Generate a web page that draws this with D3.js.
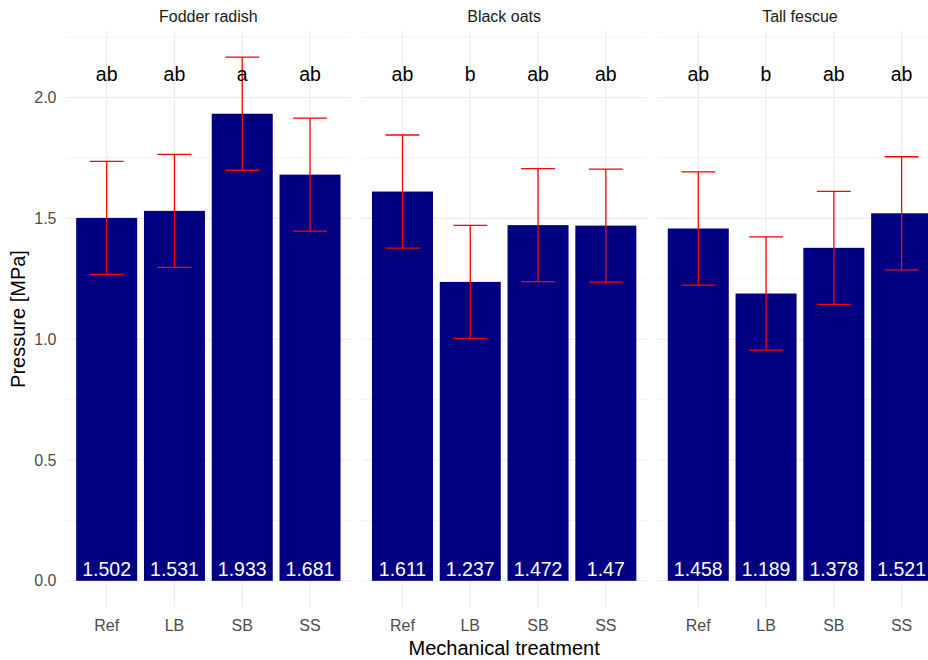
<!DOCTYPE html>
<html>
<head>
<meta charset="utf-8">
<script src="https://cdn.jsdelivr.net/npm/d3@7/dist/d3.min.js"></script>
<style>
  html, body { margin: 0; padding: 0; background: #fff; }
  svg { display: block; font-family: "Liberation Sans", Arial, sans-serif; }
</style>
</head>
<body>
<svg id="chart" width="928" height="660"></svg>
<script>
// Cover crops and mechanical treatments
const crops = ["Fodder radish", "Black oats", "Tall fescue"];
const treatments = ["Ref", "LB", "SB", "SS"];

// Mean penetration resistance (MPa), one array per crop, in treatment order
const fodderRadish = [1.502, 1.531, 1.933, 1.681];
const blackOats    = [1.611, 1.237, 1.472, 1.47];
const tallFescue   = [1.458, 1.189, 1.378, 1.521];

// Confidence limits
const fodderLower = [1.268, 1.297, 1.699, 1.447];
const fodderUpper = [1.736, 1.765, 2.167, 1.915];
const oatsLower   = [1.377, 1.003, 1.238, 1.236];
const oatsUpper   = [1.845, 1.471, 1.706, 1.704];
const fescueLower = [1.224, 0.955, 1.144, 1.287];
const fescueUpper = [1.692, 1.423, 1.612, 1.755];

// Compact letter display
const fodderLetters = ["ab", "ab", "a", "ab"];
const oatsLetters   = ["ab", "b", "ab", "ab"];
const fescueLetters = ["ab", "b", "ab", "ab"];

const letterY = 2.1;
const yTicks = [0, 0.5, 1.0, 1.5, 2.0];
const yMinor = [0.25, 0.75, 1.25, 1.75, 2.25];

const means  = [fodderRadish, blackOats, tallFescue];
const lowers = [fodderLower, oatsLower, fescueLower];
const uppers = [fodderUpper, oatsUpper, fescueUpper];
const letters = [fodderLetters, oatsLetters, fescueLetters];

const rows = [];
crops.forEach((crop, ci) => {
  treatments.forEach((t, ti) => {
    rows.push({
      crop, treatment: t,
      mean: means[ci][ti], lower: lowers[ci][ti], upper: uppers[ci][ti],
      letter: letters[ci][ti]
    });
  });
});

const svg = d3.select("#chart");

// Facet geometry
const panelLeft = 66, panelTop = 31, panelBottom = 607;
const panelW = 284.7, panelGap = 11.1;

const fx = d3.scaleBand().domain(crops)
  .range([panelLeft, panelLeft + crops.length * panelW + (crops.length - 1) * panelGap])
  .paddingInner(panelGap / (panelW + panelGap)).paddingOuter(0);

const yMax = d3.max(rows, d => Math.max(d.upper, letterY));
const ySpan = yMax - 0;
const y = d3.scaleLinear()
  .domain([0 - 0.05 * ySpan, yMax + 0.05 * ySpan])
  .range([panelBottom, panelTop]);

const x = d3.scaleBand().domain(treatments)
  .range([0, panelW]).paddingInner(0.1).paddingOuter(0.15);
const step = x.step();

const gridColor = "#ebebeb";

crops.forEach(crop => {
  const g = svg.append("g").attr("transform", `translate(${fx(crop)},0)`);
  const data = rows.filter(d => d.crop === crop);

  // minor horizontal grid
  g.selectAll(".minor").data(yMinor).join("line")
    .attr("x1", 0).attr("x2", panelW)
    .attr("y1", d => y(d)).attr("y2", d => y(d))
    .attr("stroke", gridColor).attr("stroke-width", 0.6);
  // major horizontal grid
  g.selectAll(".major").data(yTicks).join("line")
    .attr("x1", 0).attr("x2", panelW)
    .attr("y1", d => y(d)).attr("y2", d => y(d))
    .attr("stroke", gridColor).attr("stroke-width", 1.1);
  // vertical grid at categories
  g.selectAll(".vgrid").data(treatments).join("line")
    .attr("x1", d => x(d) + x.bandwidth() / 2).attr("x2", d => x(d) + x.bandwidth() / 2)
    .attr("y1", panelTop).attr("y2", panelBottom)
    .attr("stroke", gridColor).attr("stroke-width", 1.1);

  // bars
  g.selectAll(".bar").data(data).join("rect")
    .attr("x", d => x(d.treatment))
    .attr("width", x.bandwidth())
    .attr("y", d => y(d.mean))
    .attr("height", d => y(0) - y(d.mean))
    .attr("fill", "#000080");

  // error bars
  const eb = g.selectAll(".eb").data(data).join("g")
    .attr("transform", d => `translate(${x(d.treatment) + x.bandwidth() / 2},0)`);
  const capHalf = step * 0.25;
  eb.append("line").attr("x1", 0).attr("x2", 0)
    .attr("y1", d => y(d.lower)).attr("y2", d => y(d.upper));
  eb.append("line").attr("x1", -capHalf).attr("x2", capHalf)
    .attr("y1", d => y(d.upper)).attr("y2", d => y(d.upper));
  eb.append("line").attr("x1", -capHalf).attr("x2", capHalf)
    .attr("y1", d => y(d.lower)).attr("y2", d => y(d.lower));
  eb.selectAll("line").attr("stroke", "#ff0000").attr("stroke-width", 1.3);

  // value labels at the bar base
  g.selectAll(".val").data(data).join("text")
    .attr("x", d => x(d.treatment) + x.bandwidth() / 2)
    .attr("y", y(0) - 4.5)
    .attr("text-anchor", "middle")
    .attr("fill", "#ffffff")
    .attr("font-size", 19.5)
    .text(d => String(d.mean));

  // significance letters
  g.selectAll(".let").data(data).join("text")
    .attr("x", d => x(d.treatment) + x.bandwidth() / 2)
    .attr("y", y(letterY) + 7.5)
    .attr("text-anchor", "middle")
    .attr("fill", "#000000")
    .attr("font-size", 19.5)
    .text(d => d.letter);

  // x tick labels
  g.selectAll(".xt").data(treatments).join("text")
    .attr("x", d => x(d) + x.bandwidth() / 2)
    .attr("y", 631)
    .attr("text-anchor", "middle")
    .attr("fill", "#4d4d4d")
    .attr("font-size", 16)
    .text(d => d);

  // strip label
  g.append("text")
    .attr("x", panelW / 2).attr("y", 21.5)
    .attr("text-anchor", "middle")
    .attr("fill", "#1a1a1a")
    .attr("font-size", 16)
    .text(crop);
});

// y tick labels
svg.selectAll(".yt").data(yTicks).join("text")
  .attr("x", 56.5)
  .attr("y", d => y(d) + 5.6)
  .attr("text-anchor", "end")
  .attr("fill", "#4d4d4d")
  .attr("font-size", 16)
  .text(d => d3.format(".1f")(d));

// axis titles
const fullLeft = fx.range()[0], fullRight = fx.range()[1];
svg.append("text")
  .attr("x", (fullLeft + fullRight) / 2).attr("y", 655)
  .attr("text-anchor", "middle")
  .attr("fill", "#000")
  .attr("font-size", 20)
  .text("Mechanical treatment");

svg.append("text")
  .attr("transform", `translate(25,${(panelTop + panelBottom) / 2}) rotate(-90)`)
  .attr("text-anchor", "middle")
  .attr("fill", "#000")
  .attr("font-size", 20)
  .text("Pressure [MPa]");
</script>
</body>
</html>
